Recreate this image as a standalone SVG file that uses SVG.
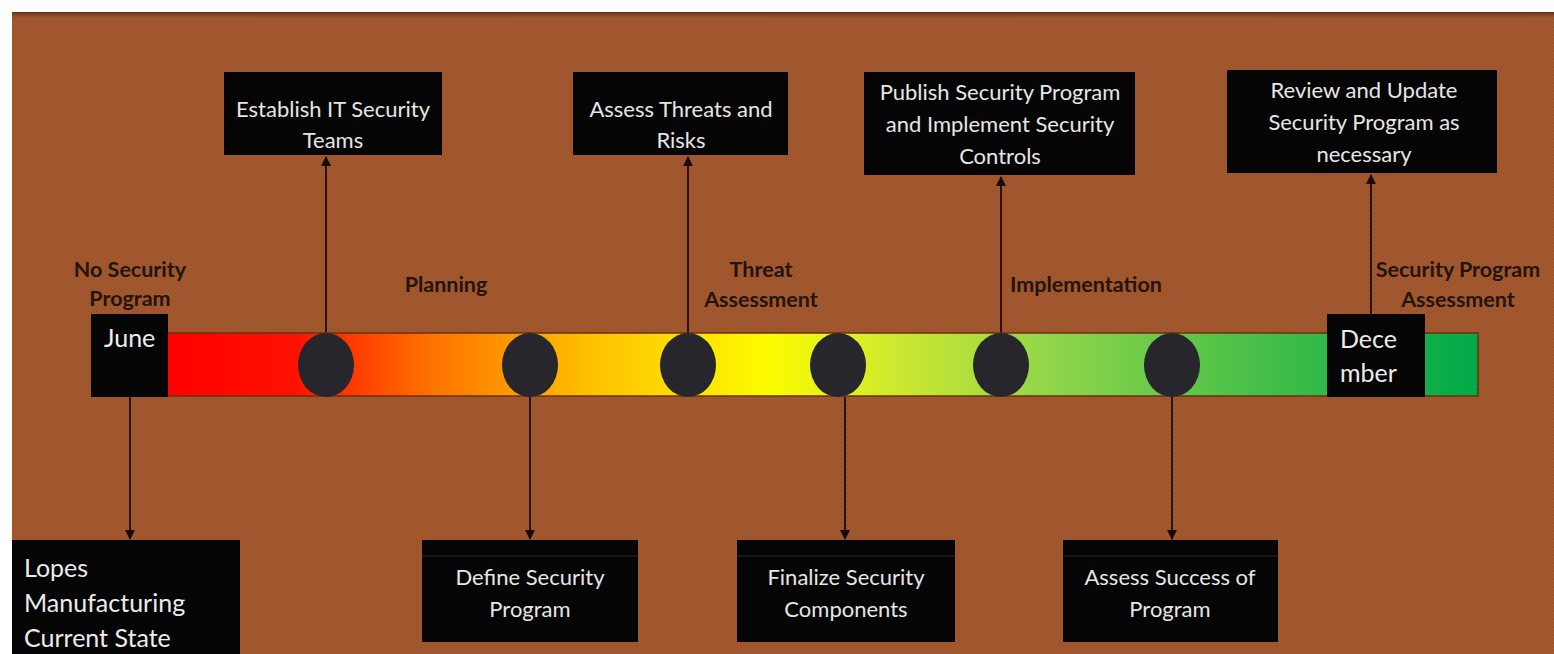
<svg xmlns="http://www.w3.org/2000/svg" width="1554" height="654" viewBox="0 0 1554 654">
<style>
.box{fill:#050505;}
.bt{font-family:Lato,"Open Sans","Liberation Sans",sans-serif;font-size:22px;fill:#e6e6e6;text-anchor:middle;}
.bl{font-family:Lato,"Open Sans","Liberation Sans",sans-serif;font-size:25px;fill:#ececec;}
.lab{font-family:Lato,"Open Sans","Liberation Sans",sans-serif;font-size:21.5px;font-weight:bold;fill:#24140b;text-anchor:middle;}
.dot{fill:#26262c;}
.con{stroke:#2a120a;stroke-width:2;fill:none;}
</style>
<defs>
<linearGradient id="bar" x1="165" y1="0" x2="1478" y2="0" gradientUnits="userSpaceOnUse">
<stop offset="0" stop-color="#ff0000"/>
<stop offset="0.1" stop-color="#ff1200"/>
<stop offset="0.2" stop-color="#ff7000"/>
<stop offset="0.32" stop-color="#ffbe00"/>
<stop offset="0.46" stop-color="#fcfc00"/>
<stop offset="0.56" stop-color="#cce830"/>
<stop offset="0.67" stop-color="#92d64a"/>
<stop offset="0.85" stop-color="#3fbd48"/>
<stop offset="1" stop-color="#00aa48"/>
</linearGradient>
<pattern id="tex" width="4" height="4" patternUnits="userSpaceOnUse">
<rect width="4" height="4" fill="#a3582e"/>
<path d="M0 4 L4 0" stroke="#94502a" stroke-width="1"/>
</pattern>
<linearGradient id="topsh" x1="0" y1="0" x2="0" y2="1">
<stop offset="0" stop-color="#5a3018"/>
<stop offset="1" stop-color="#a3582e" stop-opacity="0"/>
</linearGradient>
<marker id="arr" viewBox="0 0 10 10" refX="9" refY="5" markerWidth="5" markerHeight="5" orient="auto">
<path d="M0 0 L10 5 L0 10 Z" fill="#1a0a05"/>
</marker>
</defs>
<rect width="1554" height="654" fill="#ffffff"/>
<rect x="12" y="12" width="1542" height="642" fill="url(#tex)"/>
<rect x="12" y="12" width="1542" height="8" fill="url(#topsh)"/>

<g id="connectors">
<line class="con" x1="326" y1="333" x2="326" y2="157" marker-end="url(#arr)"/>
<line class="con" x1="688" y1="333" x2="688" y2="157" marker-end="url(#arr)"/>
<line class="con" x1="1001" y1="333" x2="1001" y2="177" marker-end="url(#arr)"/>
<line class="con" x1="1371" y1="314" x2="1371" y2="175" marker-end="url(#arr)"/>
<line class="con" x1="130" y1="397" x2="130" y2="539" marker-end="url(#arr)"/>
<line class="con" x1="530" y1="397" x2="530" y2="539" marker-end="url(#arr)"/>
<line class="con" x1="845" y1="397" x2="845" y2="539" marker-end="url(#arr)"/>
<line class="con" x1="1172" y1="397" x2="1172" y2="539" marker-end="url(#arr)"/>
</g>

<g id="timeline">
<rect x="165" y="333" width="1313" height="63" fill="url(#bar)" stroke="#6a3010" stroke-width="1.5"/>
</g>

<g id="june">
<rect class="box" x="91" y="314" width="77" height="83"/>
<text class="bl" x="104" y="347">June</text>
</g>
<g id="december">
<rect class="box" x="1327" y="314" width="98" height="83"/>
<text class="bl" x="1340" y="348">Dece</text>
<text class="bl" x="1340" y="382">mber</text>
</g>

<g id="m1"><ellipse class="dot" cx="326" cy="365" rx="28" ry="32"/></g>
<g id="m2"><ellipse class="dot" cx="530" cy="365" rx="28" ry="32"/></g>
<g id="m3"><ellipse class="dot" cx="688" cy="365" rx="28" ry="32"/></g>
<g id="m4"><ellipse class="dot" cx="838" cy="365" rx="28" ry="32"/></g>
<g id="m5"><ellipse class="dot" cx="1001" cy="365" rx="28" ry="32"/></g>
<g id="m6"><ellipse class="dot" cx="1172" cy="365" rx="28" ry="32"/></g>

<g id="phase-labels">
<text class="lab" x="130" y="277">No Security</text>
<text class="lab" x="130" y="306">Program</text>
<text class="lab" x="446" y="292">Planning</text>
<text class="lab" x="761" y="277">Threat</text>
<text class="lab" x="761" y="307">Assessment</text>
<text class="lab" x="1086" y="292">Implementation</text>
<text class="lab" x="1458" y="277">Security Program</text>
<text class="lab" x="1458" y="307">Assessment</text>
</g>

<g id="establish">
<rect class="box" x="224" y="72" width="218" height="83"/>
<text class="bt" x="333" y="117">Establish IT Security</text>
<text class="bt" x="333" y="148">Teams</text>
</g>
<g id="assess-threats">
<rect class="box" x="573" y="72" width="215" height="83"/>
<text class="bt" x="681" y="117">Assess Threats and</text>
<text class="bt" x="681" y="148">Risks</text>
</g>
<g id="publish">
<rect class="box" x="864" y="72" width="271" height="103"/>
<text class="bt" x="1000" y="100">Publish Security Program</text>
<text class="bt" x="1000" y="132">and Implement Security</text>
<text class="bt" x="1000" y="164">Controls</text>
</g>
<g id="review">
<rect class="box" x="1227" y="70" width="270" height="103"/>
<text class="bt" x="1364" y="98">Review and Update</text>
<text class="bt" x="1364" y="130">Security Program as</text>
<text class="bt" x="1364" y="162">necessary</text>
</g>
<g id="lopes">
<rect class="box" x="12" y="540" width="228" height="114"/>
<text class="bl" x="24" y="577">Lopes</text>
<text class="bl" x="24" y="612">Manufacturing</text>
<text class="bl" x="24" y="647">Current State</text>
</g>
<g id="define">
<rect class="box" x="422" y="540" width="216" height="102"/>
<line x1="422" y1="556" x2="638" y2="556" stroke="#2a1a14" stroke-width="1.5"/>
<text class="bt" x="530" y="585">Define Security</text>
<text class="bt" x="530" y="617">Program</text>
</g>
<g id="finalize">
<rect class="box" x="737" y="540" width="218" height="102"/>
<line x1="737" y1="556" x2="955" y2="556" stroke="#2a1a14" stroke-width="1.5"/>
<text class="bt" x="846" y="585">Finalize Security</text>
<text class="bt" x="846" y="617">Components</text>
</g>
<g id="assess-success">
<rect class="box" x="1063" y="540" width="215" height="102"/>
<line x1="1063" y1="556" x2="1278" y2="556" stroke="#2a1a14" stroke-width="1.5"/>
<text class="bt" x="1170" y="585">Assess Success of</text>
<text class="bt" x="1170" y="617">Program</text>
</g>
</svg>
